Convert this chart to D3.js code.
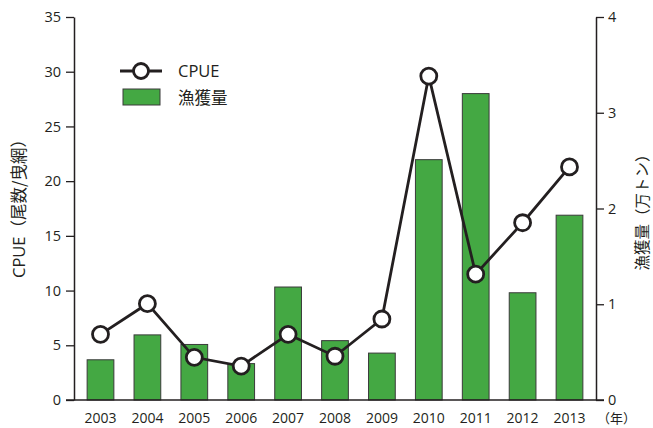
<!DOCTYPE html>
<html>
<head>
<meta charset="utf-8">
<script src="https://d3js.org/d3.v7.min.js"></script>
<style>
  body { margin: 0; background: #fff; }
  text { font-family: "Open Sans", "Noto Sans CJK JP", sans-serif; fill: #231f20; }
</style>
</head>
<body>
<div id="chart"></div>
<script>
// 年・CPUE・漁獲量
const years = ["2003","2004","2005","2006","2007","2008","2009","2010","2011","2012","2013"];
const cpue = [6.0, 8.8, 3.9, 3.1, 6.0, 4.0, 7.4, 29.6, 11.5, 16.2, 21.3];
const catchVals = [0.42, 0.68, 0.58, 0.38, 1.18, 0.62, 0.49, 2.51, 3.20, 1.12, 1.93];
const leftTicks = [0, 5, 10, 15, 20, 25, 30, 35];
const rightTicks = [0, 1, 2, 3, 4];

const width = 653, height = 428;
const x0 = 74, x1 = 596, yTop = 17, yBot = 400;
const ink = "#231f20";
const jp = "'Noto Sans CJK JP', sans-serif";

const svg = d3.select("#chart").append("svg")
    .attr("width", width)
    .attr("height", height);

const x = d3.scaleBand().domain(years).range([x0, x1]).paddingInner(0.43).paddingOuter(0.28);
const yL = d3.scaleLinear().domain([0, 35]).range([yBot, yTop]);
const yR = d3.scaleLinear().domain([0, 4]).range([yBot, yTop]);

// 棒（漁獲量）
svg.selectAll(".bar")
    .data(catchVals)
    .enter()
    .append("rect")
    .attr("class", "bar")
    .attr("x", (d, i) => x(years[i]))
    .attr("y", d => yR(d))
    .attr("width", x.bandwidth())
    .attr("height", d => yBot - yR(d))
    .attr("fill", "#44a843")
    .attr("stroke", "#3a3a3a")
    .attr("stroke-width", 1);

// 軸
const axisL = svg.append("g").attr("transform", `translate(${x0},0)`)
    .call(d3.axisLeft(yL).tickValues(leftTicks).tickSize(8).tickPadding(5).tickSizeOuter(0));
const axisR = svg.append("g").attr("transform", `translate(${x1},0)`)
    .call(d3.axisRight(yR).tickValues(rightTicks).tickFormat(d3.format("d"))
        .tickSize(8).tickPadding(4).tickSizeOuter(0));
[axisL, axisR].forEach(g => {
    g.select(".domain").attr("stroke", ink).attr("stroke-width", 1.5);
    g.selectAll(".tick line").attr("stroke", ink).attr("stroke-width", 1.3);
    g.selectAll(".tick text").attr("font-size", 14.5).attr("fill", "#333")
        .style("font-family", "'Open Sans', sans-serif");
});

// 下の基線
svg.append("line")
    .attr("x1", x0 - 8).attr("x2", x1 + 8)
    .attr("y1", yBot).attr("y2", yBot)
    .attr("stroke", ink).attr("stroke-width", 1.5);

// 年ラベル
svg.selectAll(".year")
    .data(years)
    .enter()
    .append("text")
    .attr("class", "year")
    .attr("x", d => x(d) + x.bandwidth() / 2)
    .attr("y", 423)
    .attr("text-anchor", "middle")
    .attr("font-size", 14)
    .text(d => d);
svg.append("text")
    .attr("x", 597).attr("y", 423)
    .attr("font-size", 13)
    .style("font-family", jp)
    .text("（年）");

// CPUE 折れ線
const line = d3.line()
    .x((d, i) => x(years[i]) + x.bandwidth() / 2)
    .y(d => yL(d));
svg.append("path")
    .datum(cpue)
    .attr("d", line)
    .attr("fill", "none")
    .attr("stroke", ink)
    .attr("stroke-width", 2.8);
svg.selectAll(".pt")
    .data(cpue)
    .enter()
    .append("circle")
    .attr("class", "pt")
    .attr("cx", (d, i) => x(years[i]) + x.bandwidth() / 2)
    .attr("cy", d => yL(d))
    .attr("r", 8)
    .attr("fill", "#fff")
    .attr("stroke", ink)
    .attr("stroke-width", 2.8);

// 軸タイトル
const tl = svg.append("text")
    .attr("transform", `translate(25,${(yTop + yBot) / 2 - 4}) rotate(-90)`)
    .attr("text-anchor", "middle")
    .attr("font-size", 16.5);
tl.append("tspan").style("font-family", "'Open Sans', sans-serif").text("CPUE");
tl.append("tspan").style("font-family", jp).text("（尾数/曳網）");
svg.append("text")
    .attr("transform", `translate(648,${(yTop + yBot) / 2}) rotate(-90)`)
    .attr("text-anchor", "middle")
    .attr("font-size", 15.5)
    .style("font-family", jp)
    .text("漁獲量（万トン）");

// 凡例
const lg = svg.append("g");
lg.append("line").attr("x1", 120).attr("x2", 162).attr("y1", 71).attr("y2", 71)
    .attr("stroke", ink).attr("stroke-width", 2.8);
lg.append("circle").attr("cx", 141).attr("cy", 71).attr("r", 7.5)
    .attr("fill", "#fff").attr("stroke", ink).attr("stroke-width", 2.8);
lg.append("text").attr("x", 178).attr("y", 77).attr("font-size", 16.5)
    .style("font-family", "'Open Sans', sans-serif").text("CPUE");
lg.append("rect").attr("x", 123).attr("y", 89).attr("width", 37).attr("height", 16)
    .attr("fill", "#44a843").attr("stroke", "#3a3a3a").attr("stroke-width", 1);
lg.append("text").attr("x", 178).attr("y", 104).attr("font-size", 16.5)
    .style("font-family", jp).text("漁獲量");
</script>
</body>
</html>
